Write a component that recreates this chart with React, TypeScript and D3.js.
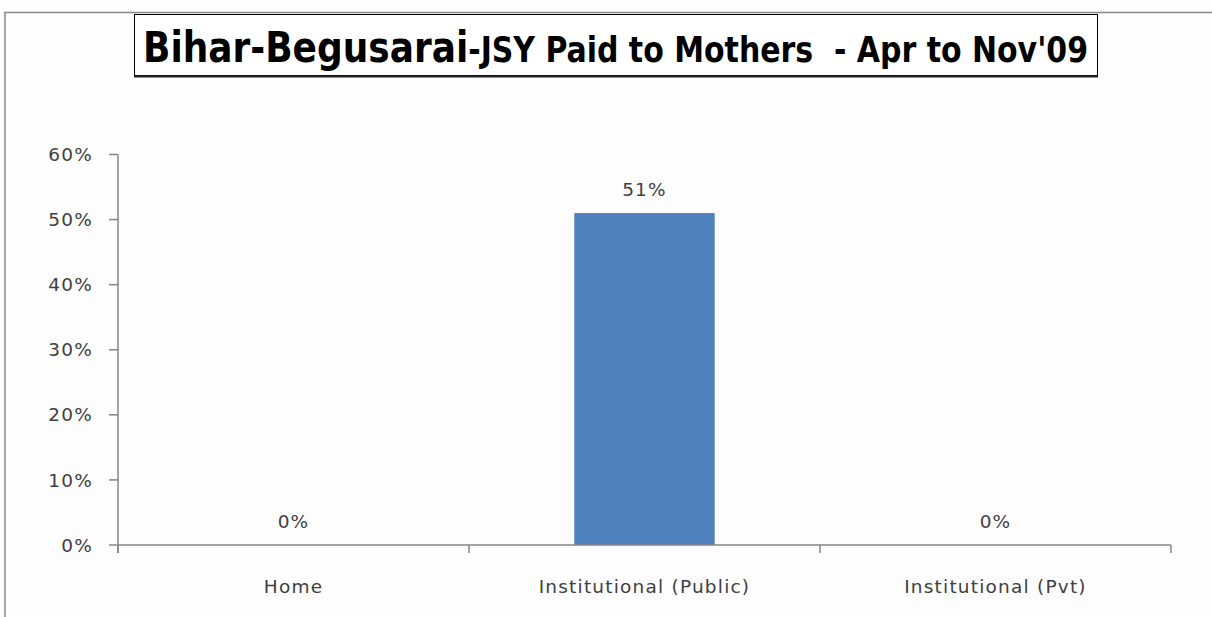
import React from "react";
import * as d3 from "d3";

const categories = ["Home", "Institutional (Public)", "Institutional (Pvt)"];
const values = [0, 0.51, 0];
const yTicks = [0, 0.1, 0.2, 0.3, 0.4, 0.5, 0.6];
const titleMain = "Bihar-Begusarai";
const titleRest = "-JSY Paid to Mothers  - Apr to Nov'09";

const W = 1212;
const H = 617;
const FONT = "'DejaVu Sans', sans-serif";
const TITLE_FONT = "'Liberation Sans Narrow', 'DejaVu Sans Condensed', sans-serif";

export default function App() {
  const x = d3.scaleBand<string>().domain(categories).range([118, 1171]).paddingInner(0).paddingOuter(0);
  const y = d3.scaleLinear().domain([0, 0.6]).range([545, 154.5]);
  const barW = x.bandwidth() * 0.4;
  const fmt = d3.format(".0%");
  const axisColor = "#868686";
  const textColor = "#404040";
  const fs = 18.5;
  const ls = 1.2;

  return (
    <svg width={W} height={H} style={{ position: "absolute", left: 0, top: 0, background: "#fdfdfd" }}>
      <rect x={0} y={0} width={W} height={H} fill="#fdfdfd" />
      {/* outer chart border */}
      <line x1={4} x2={W} y1={12.5} y2={12.5} stroke="#8a8a8a" strokeWidth={1.5} />
      <line x1={5} x2={5} y1={12} y2={H} stroke="#8a8a8a" strokeWidth={1.5} />

      {/* title box */}
      <rect x={134.5} y={14.5} width={963} height={61} fill="#fff" stroke="#000" strokeWidth={1} />
      <line x1={134} x2={1098} y1={76.5} y2={76.5} stroke="#222" strokeWidth={2} />
      <text x={143} y={62} fontFamily={TITLE_FONT} fontWeight="bold" fill="#000" textLength={945} lengthAdjust="spacingAndGlyphs" style={{ whiteSpace: "pre" }}>
        <tspan fontSize={42}>{titleMain}</tspan>
        <tspan fontSize={35}>{titleRest}</tspan>
      </text>

      {/* y axis */}
      <line x1={118} x2={118} y1={y(0.6)} y2={y(0) + 8} stroke={axisColor} strokeWidth={1.5} />
      {yTicks.map((t) => (
        <g key={t}>
          <line x1={109} x2={118} y1={y(t)} y2={y(t)} stroke={axisColor} strokeWidth={1.5} />
          <text x={93} y={y(t)} dy="0.36em" textAnchor="end" fontFamily={FONT} fontSize={fs} letterSpacing={ls} fill={textColor}>
            {fmt(t)}
          </text>
        </g>
      ))}

      {/* bars */}
      {categories.map((c, i) => {
        const cx = (x(c) as number) + x.bandwidth() / 2;
        return (
          <g key={c}>
            {values[i] > 0 && (
              <rect x={cx - barW / 2} y={y(values[i])} width={barW} height={y(0) - y(values[i])} fill="#4f81bd" />
            )}
            <text x={cx} y={y(values[i]) - 17} textAnchor="middle" fontFamily={FONT} fontSize={fs} letterSpacing={ls} fill={textColor}>
              {fmt(values[i])}
            </text>
            <text x={cx} y={593} textAnchor="middle" fontFamily={FONT} fontSize={fs} letterSpacing={ls} fill={textColor}>
              {c}
            </text>
          </g>
        );
      })}

      {/* x axis */}
      <line x1={118} x2={1171} y1={y(0)} y2={y(0)} stroke={axisColor} strokeWidth={1.5} />
      {[...categories.map((c) => x(c) as number), 1171].map((p, i) => (
        <line key={i} x1={p} x2={p} y1={y(0)} y2={y(0) + 8} stroke={axisColor} strokeWidth={1.5} />
      ))}
    </svg>
  );
}
